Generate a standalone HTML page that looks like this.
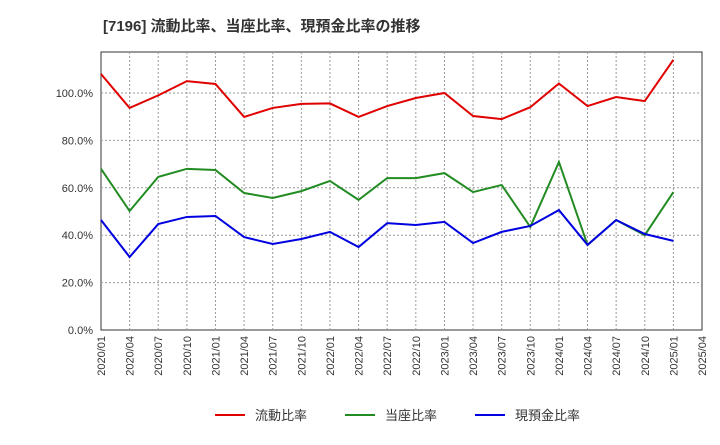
<!DOCTYPE html>
<html><head><meta charset="utf-8"><style>
body{margin:0;background:#fff;width:720px;height:440px;overflow:hidden;font-family:"Liberation Sans","Noto Sans CJK JP",sans-serif;}
</style></head><body>
<svg id="chart" width="720" height="440" xmlns="http://www.w3.org/2000/svg">
<text x="103" y="31" font-size="15" font-weight="bold" fill="#333">[7196]  流動比率、当座比率、現預金比率の推移</text>
</svg>
<script>
const categories=["2020/01","2020/04","2020/07","2020/10","2021/01","2021/04","2021/07","2021/10","2022/01","2022/04","2022/07","2022/10","2023/01","2023/04","2023/07","2023/10","2024/01","2024/04","2024/07","2024/10","2025/01","2025/04"];
const currentRatio=[108,93.7,99,105,103.8,89.9,93.7,95.4,95.6,89.9,94.5,97.9,100,90.3,89,94,104,94.5,98.3,96.6,114];
const quickRatio=[68,50.2,64.6,68,67.5,57.8,55.7,58.6,62.9,54.9,64.1,64.1,66.2,58.2,61.2,43.5,70.9,35.9,46.4,40,58.2];
const cashRatio=[46.4,30.8,44.7,47.7,48.1,39.2,36.3,38.4,41.4,35,45.1,44.3,45.6,36.7,41.4,43.9,50.6,35.9,46.4,40.5,37.6];
const yTicks=[0,20,40,60,80,100];
const seriesNames=["流動比率","当座比率","現預金比率"];
const NS="http://www.w3.org/2000/svg";
const svg=document.getElementById("chart");
const L=101,R=702,T=52,B=330;
const x=i=>L+(R-L)*i/(categories.length-1);
const y=v=>B-(B-93)*v/100;
function mk(t,a){const e=document.createElementNS(NS,t);for(const k in a)e.setAttribute(k,a[k]);svg.appendChild(e);return e;}
const frame=mk("rect",{x:L,y:T,width:R-L,height:B-T,fill:"none",stroke:"#333","stroke-width":1});


yTicks.forEach(v=>{
  if(v>0){const g=mk("line",{x1:L,x2:R,y1:y(v),y2:y(v),stroke:"#999","stroke-dasharray":"2,2"});
  
  }
  const t=mk("text",{x:L-8,y:y(v)+4,"text-anchor":"end","font-size":11,fill:"#333"});
  t.textContent=v.toFixed(1)+"%";
  
  
});
categories.forEach((c,i)=>{
  if(i>0&&i<categories.length-1){const g=mk("line",{x1:x(i),x2:x(i),y1:T,y2:B,stroke:"#999","stroke-dasharray":"2,2"});
  
  }
  const t=mk("text",{x:0,y:0,"text-anchor":"end","font-size":11,fill:"#333",transform:`translate(${x(i)+4},${B+6}) rotate(-90)`});
  t.textContent=c;
  
  
});
const colors=["#e00000","#228b22","#0000e0"];
[currentRatio,quickRatio,cashRatio].forEach((d,s)=>{
  const p=mk("polyline",{points:d.map((v,i)=>x(i)+","+y(v)).join(" "),fill:"none",stroke:colors[s],"stroke-width":2});
  
  
});
const lx=[215,345,475];
seriesNames.forEach((n,s)=>{
  const l=mk("line",{x1:lx[s],x2:lx[s]+30,y1:415,y2:415,stroke:colors[s],"stroke-width":2});
  
  
  const t=mk("text",{x:lx[s]+40,y:420,"font-size":13,fill:"#333"});
  t.textContent=n;
  
  
});
</script>
</body></html>
